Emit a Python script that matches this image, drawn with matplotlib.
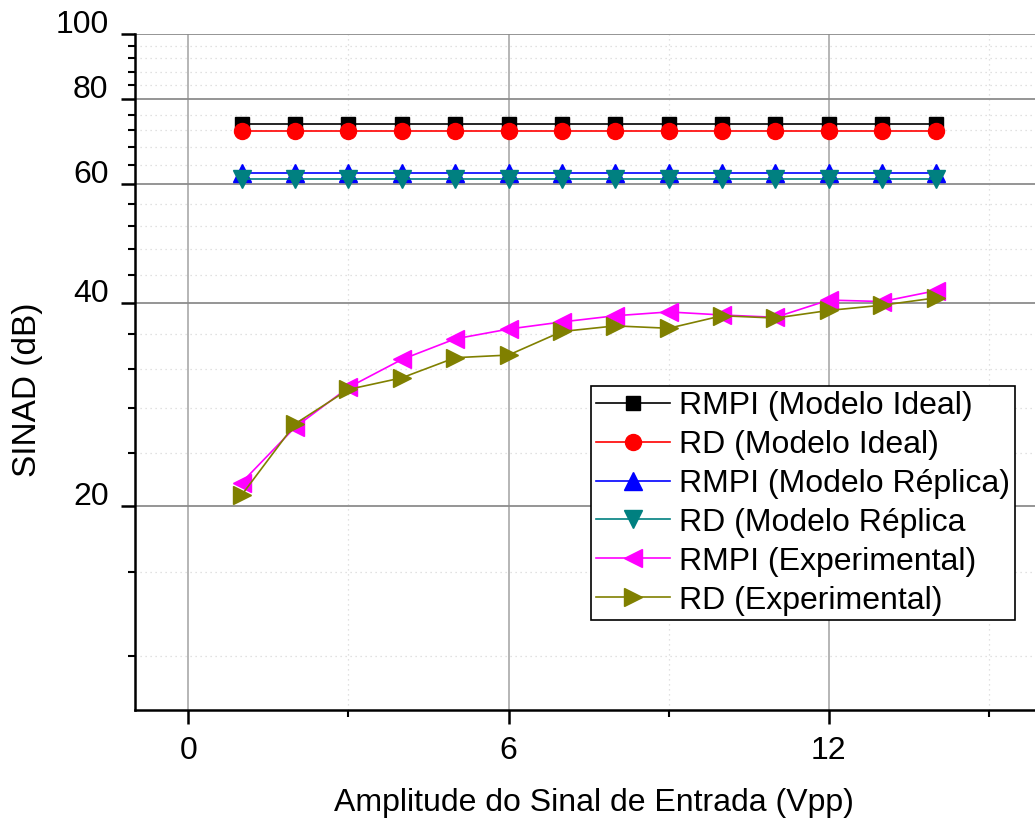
import matplotlib
matplotlib.use('Agg')
import matplotlib.pyplot as plt
import matplotlib.transforms as mtransforms
from matplotlib.ticker import FixedLocator, NullFormatter
import numpy as np

from matplotlib import rcParams
rcParams['font.family'] = 'sans-serif'
rcParams['font.sans-serif'] = ['Liberation Sans', 'DejaVu Sans']
rcParams.update({'xtick.direction': 'out', 'ytick.direction': 'out'})

# amplitude of the input signal (Vpp)
amplitude = np.arange(1, 15)

# SINAD (dB) for each receiver / model
rmpi_ideal = [73.5] * 14
rd_ideal = [71.8] * 14
rmpi_replica = [62.2] * 14
rd_replica = [61.1] * 14
rmpi_exp = [21.7, 26.2, 30.0, 33.0, 35.4, 36.6, 37.5, 38.3, 38.8, 38.4, 38.1, 40.4, 40.2, 41.7]
rd_exp = [20.8, 26.5, 29.8, 31.0, 33.2, 33.5, 36.3, 37.0, 36.7, 38.3, 38.0, 39.0, 39.7, 40.7]

series = [
    (rmpi_ideal, 'RMPI (Modelo Ideal)', 'black', 's', 10.5),
    (rd_ideal, 'RD (Modelo Ideal)', 'red', 'o', 11.5),
    (rmpi_replica, 'RMPI (Modelo Réplica)', 'blue', '^', 12.5),
    (rd_replica, 'RD (Modelo Réplica', '#008080', 'v', 12.5),
    (rmpi_exp, 'RMPI (Experimental)', '#ff00ff', '<', 13.5),
    (rd_exp, 'RD (Experimental)', '#808000', '>', 13.5),
]

yticks_major = [20, 40, 60, 80, 100]
yticks_minor = [12, 16, 24, 28, 32, 36, 44, 48, 52, 56, 64, 68, 72, 76, 84, 88, 92, 96]

fig = plt.figure(figsize=(10.35, 8.19), dpi=100)
ax = fig.add_axes([0.1304, 0.1331, 0.887, 0.8254])

for vals, label, color, marker, ms in series:
    ax.plot(amplitude, vals, color=color, lw=1.2, marker=marker, ms=ms,
            mec=color, mfc=color, label=label, clip_on=False, zorder=3)

ax.set_yscale('log')
ax.set_ylim(10, 100)
ax.set_xlim(-1, 16.2)

ax.yaxis.set_major_locator(FixedLocator(yticks_major))
ax.yaxis.set_minor_locator(FixedLocator(yticks_minor))
ax.yaxis.set_minor_formatter(NullFormatter())
ax.set_yticklabels([str(v) for v in yticks_major])
ax.xaxis.set_major_locator(FixedLocator([0, 6, 12]))
ax.xaxis.set_minor_locator(FixedLocator([3, 9, 15]))

ax.grid(which='major', axis='y', color='#8c8c8c', lw=1.3, ls='-')
ax.grid(which='major', axis='x', color='#b0b0b0', lw=1.3, ls='-')
ax.grid(which='minor', color='#d8d8d8', lw=0.9, ls=(0, (1, 3)))
ax.set_axisbelow(True)

for side in ['top', 'right']:
    ax.spines[side].set_visible(False)
for side in ['left', 'bottom']:
    ax.spines[side].set_linewidth(1.8)

ax.tick_params(which='major', length=10, width=1.8, labelsize=23)
ax.tick_params(which='minor', length=5, width=1.5)
ax.tick_params(axis='y', which='major', pad=9)
ax.tick_params(axis='x', which='major', pad=9)

# origin-style: y labels sit slightly above their ticks
offset = mtransforms.ScaledTranslation(0, 9 / 72., fig.dpi_scale_trans)
for lbl in ax.get_yticklabels():
    lbl.set_transform(lbl.get_transform() + offset)

ax.set_xlabel('Amplitude do Sinal de Entrada (Vpp)', fontsize=23)
ax.set_ylabel('SINAD (dB)', fontsize=24)
ax.xaxis.set_label_coords(0.5, -0.115)
ax.yaxis.set_label_coords(-0.100, 0.473)

leg = ax.legend(loc='upper right', bbox_to_anchor=(1015 / 1035, 1 - 386 / 819),
                bbox_transform=fig.transFigure, borderaxespad=0, fontsize=23,
                fancybox=False, framealpha=1, edgecolor='black', handlelength=2.3,
                handletextpad=0.3, labelspacing=0.28, borderpad=0.15, markerscale=1.0)
leg.get_frame().set_linewidth(1.2)

plt.savefig('out.png', dpi=100)
